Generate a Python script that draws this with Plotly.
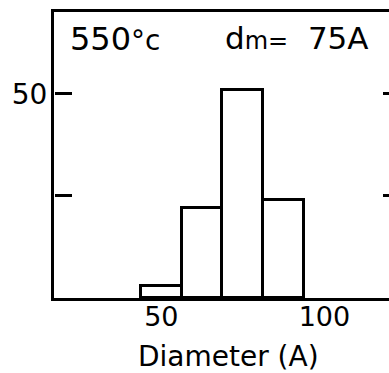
import plotly.graph_objects as go

# Data: size distribution at 550 °C (percent per bin)
bin_centers = [50.0, 62.5, 75.0, 87.5]
bin_width = 12.5
percent = [3, 22, 51, 24]
x_ticks = [50, 100]
y_ticks_labeled = [50]
y_ticks_all = [25, 50]

FONT = "DejaVu Sans"

fig = go.Figure()
fig.add_trace(go.Bar(
    x=bin_centers, y=percent, width=[bin_width] * len(bin_centers),
    marker=dict(color="white", line=dict(color="black", width=3)),
    showlegend=False, hoverinfo="skip",
))
# empty traces so the tick-only overlay axes get drawn
fig.add_trace(go.Scatter(x=[], y=[], yaxis="y2", showlegend=False, hoverinfo="skip"))
fig.add_trace(go.Scatter(x=[], y=[], yaxis="y3", showlegend=False, hoverinfo="skip"))

tick_axis = dict(range=[0, 70], tickvals=y_ticks_all, overlaying="y",
                 showline=False, tickwidth=3, tickcolor="black",
                 showticklabels=False, showgrid=False, zeroline=False)

fig.update_layout(
    width=389, height=373,
    margin=dict(l=54, r=0, t=12, b=75),
    paper_bgcolor="white", plot_bgcolor="white",
    font=dict(family=FONT, color="black", size=27),
    bargap=0,
    xaxis=dict(
        range=[17.1, 119.8], tickvals=x_ticks, ticktext=[str(v) for v in x_ticks],
        showline=True, linecolor="black", linewidth=3, mirror=True,
        ticks="", showgrid=False, zeroline=False, ticklabelstandoff=-7,
        tickfont=dict(size=27, family=FONT),
    ),
    yaxis=dict(
        range=[0, 70], tickvals=y_ticks_all,
        ticktext=[str(v) if v in y_ticks_labeled else "" for v in y_ticks_all],
        showline=True, linecolor="black", linewidth=3, mirror=False,
        ticks="", showgrid=False, zeroline=False, ticklabelstandoff=-2,
        tickfont=dict(size=28, family=FONT),
    ),
    # right-hand ticks (the right frame edge lies just outside the picture)
    yaxis2=dict(side="right", anchor="x", ticks="inside", ticklen=6, **tick_axis),
    # left-hand inward ticks
    yaxis3=dict(side="right", anchor="free", position=0, ticks="outside", ticklen=17,
                **tick_axis),
)

fig.add_annotation(
    text="550<span style='font-size:28px'>°c</span>",
    xref="paper", yref="paper", x=0.042, y=0.978, xanchor="left", yanchor="top",
    showarrow=False, font=dict(size=32, family=FONT, color="black"),
)
fig.add_annotation(
    text="d<span style='font-size:24px'>m=</span>&nbsp; 75A",
    xref="paper", yref="paper", x=0.503, y=0.978, xanchor="left", yanchor="top",
    showarrow=False, font=dict(size=31, family=FONT, color="black"),
)
fig.add_annotation(
    text="Diameter (A)",
    xref="paper", yref="paper", x=0.522, y=-0.14, xanchor="center", yanchor="top",
    showarrow=False, font=dict(size=28, family=FONT, color="black"),
)

fig.write_html("out.html")
